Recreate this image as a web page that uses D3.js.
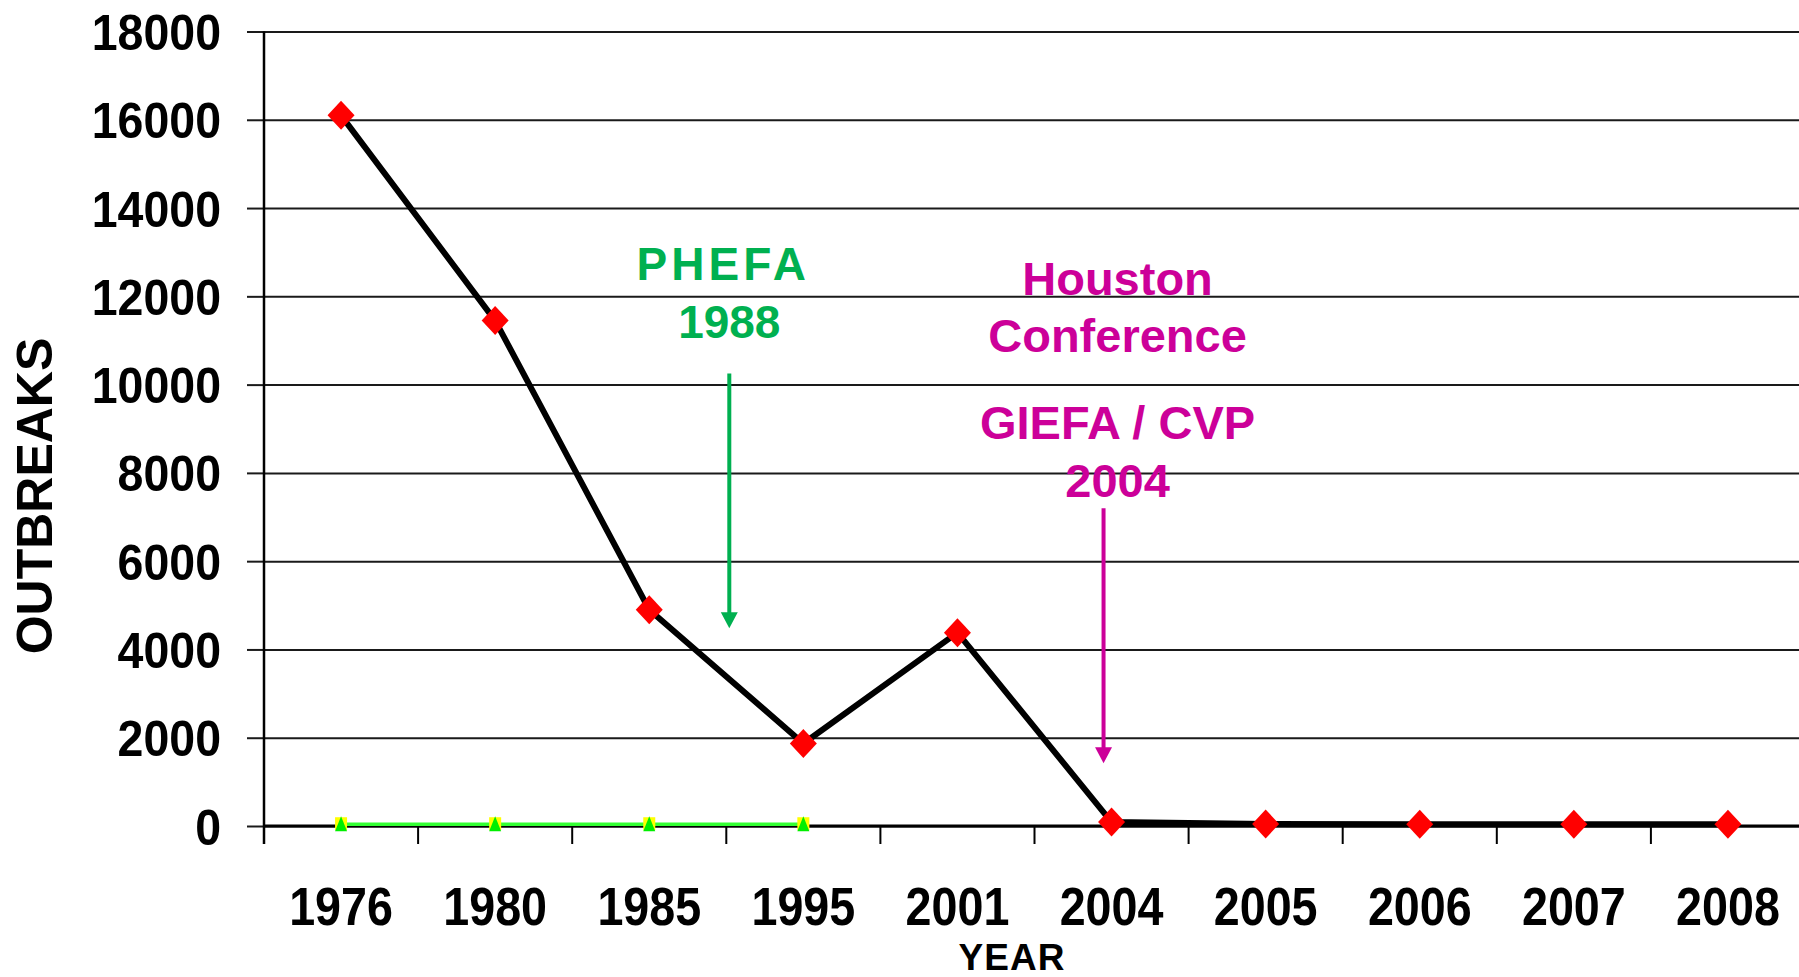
<!DOCTYPE html>
<html>
<head>
<meta charset="utf-8">
<script src="https://cdn.jsdelivr.net/npm/d3@7"></script>
<style>
  html, body { margin: 0; padding: 0; background: #fff; }
  svg { display: block; font-family: "Liberation Sans", Arial, Helvetica, sans-serif; font-weight: bold; }
</style>
</head>
<body>
<div id="chart"></div>
<script>
// categories and values
const years = ['1976', '1980', '1985', '1995', '2001', '2004', '2005', '2006', '2007', '2008']
const outbreaks = [16100, 11450, 4900, 1870, 4380, 90, 45, 40, 40, 40]
// the short yellow / green series only covers the first four years
const earlyYears = ['1976', '1980', '1985', '1995']
const squareValues = [40, 40, 40, 40]
const triangleValues = [40, 40, 40, 40]
const yTicks = [0, 2000, 4000, 6000, 8000, 10000, 12000, 14000, 16000, 18000]
const phefaLines = ['PHEFA', '1988']
const cvpLines = ['Houston', 'Conference', 'GIEFA / CVP', '2004']

const width = 1799
const height = 977
const margin = { top: 31.5, left: 264, bottom: 826 }
const plotRight = 1805

const svg = d3.select('#chart')
  .append('svg')
  .attr('width', width)
  .attr('height', height)

// scales
const x = d3.scaleBand()
  .domain(years)
  .range([margin.left, plotRight])
  .padding(0)
const y = d3.scaleLinear()
  .domain([0, 18000])
  .range([margin.bottom, margin.top])
const cx = d => x(d) + x.bandwidth() / 2

// grid lines
svg.append('g')
  .attr('transform', `translate(${margin.left},0)`)
  .call(d3.axisLeft(y).tickValues(yTicks).tickSize(-(plotRight - margin.left)).tickFormat(''))
  .call(g => g.select('.domain').remove())
  .call(g => g.selectAll('line').attr('stroke', '#1a1a1a').attr('stroke-width', 2))

// y axis with labels
svg.append('g')
  .attr('transform', `translate(${margin.left},0)`)
  .call(d3.axisLeft(y).tickValues(yTicks).tickSize(17).tickSizeOuter(0).tickPadding(26).tickFormat(d3.format('d')))
  .call(g => g.select('.domain').remove())
  .call(g => g.selectAll('line').attr('stroke', '#1a1a1a').attr('stroke-width', 2))
  .call(g => g.selectAll('text')
    .attr('x', 0)
    .attr('dy', '0.36em')
    .attr('transform', 'translate(-43,0) scale(0.93,1)')
    .attr('fill', '#000')
    .style('font-size', '50px')
    .style('font-weight', 'bold'))

// y axis line
svg.append('line')
  .attr('x1', margin.left).attr('x2', margin.left)
  .attr('y1', margin.top).attr('y2', margin.bottom + 18)
  .attr('stroke', '#000').attr('stroke-width', 2.5)

// x axis: labels centred in each band
svg.append('g')
  .attr('transform', `translate(0,${margin.bottom})`)
  .call(d3.axisBottom(x).tickSize(0).tickSizeOuter(0))
  .call(g => g.select('.domain').remove())
  .call(g => g.selectAll('text')
    .attr('y', 0)
    .attr('dy', 0)
    .attr('transform', 'translate(0,99) scale(0.88,1)')
    .attr('fill', '#000')
    .style('font-size', '53px')
    .style('font-weight', 'bold'))

// x axis line and ticks on the band edges
svg.append('line')
  .attr('x1', margin.left).attr('x2', plotRight)
  .attr('y1', margin.bottom).attr('y2', margin.bottom)
  .attr('stroke', '#000').attr('stroke-width', 3)
svg.append('g')
  .selectAll('line')
  .data(years.slice(1))
  .join('line')
  .attr('x1', d => x(d)).attr('x2', d => x(d))
  .attr('y1', margin.bottom).attr('y2', margin.bottom + 18)
  .attr('stroke', '#000').attr('stroke-width', 2)

// axis titles
svg.append('text')
  .attr('x', 1012).attr('y', 970)
  .attr('text-anchor', 'middle')
  .style('font-size', '37px')
  .style('letter-spacing', '1px')
  .text('YEAR')
svg.append('text')
  .attr('transform', 'translate(52,496) rotate(-90)')
  .attr('text-anchor', 'middle')
  .style('font-size', '50px')
  .text('OUTBREAKS')

// early series: green line, yellow squares, green triangles
const early = earlyYears.map((d, i) => ({ year: d, sq: squareValues[i], tri: triangleValues[i] }))
svg.append('path')
  .datum(early)
  .attr('fill', 'none')
  .attr('stroke', '#33ff33')
  .attr('stroke-width', 3.5)
  .attr('d', d3.line().x(d => cx(d.year)).y(d => y(d.tri)))
svg.append('g')
  .selectAll('rect')
  .data(early)
  .join('rect')
  .attr('x', d => cx(d.year) - 6).attr('y', d => y(d.sq) - 7)
  .attr('width', 12).attr('height', 13)
  .attr('fill', '#ffff00')
svg.append('g')
  .selectAll('path')
  .data(early)
  .join('path')
  .attr('transform', d => `translate(${cx(d.year)},${y(d.tri)})`)
  .attr('d', 'M0,-8L6,7L-6,7Z')
  .attr('fill', '#00ee00')

// main series: black line with red diamonds
const main = years.map((d, i) => ({ year: d, value: outbreaks[i] }))
svg.append('path')
  .datum(main)
  .attr('fill', 'none')
  .attr('stroke', '#000')
  .attr('stroke-width', 6)
  .attr('stroke-linejoin', 'round')
  .attr('d', d3.line().x(d => cx(d.year)).y(d => y(d.value)))
svg.append('g')
  .selectAll('path')
  .data(main)
  .join('path')
  .attr('transform', d => `translate(${cx(d.year)},${y(d.value)})`)
  .attr('d', 'M0,-14.5L13.5,0L0,14.5L-13.5,0Z')
  .attr('fill', '#ff0000')

// arrow helper
function arrow (ax, fromValue, toValue, color) {
  const top = y(fromValue)
  const tip = y(toValue)
  svg.append('line')
    .attr('x1', ax).attr('x2', ax)
    .attr('y1', top).attr('y2', tip - 14)
    .attr('stroke', color).attr('stroke-width', 4)
  svg.append('path')
    .attr('d', `M${ax - 8.5},${tip - 16}L${ax + 8.5},${tip - 16}L${ax},${tip}Z`)
    .attr('fill', color)
}

// PHEFA 1988 annotation
const green = '#00b050'
const phefaX = x('1995') + 3
svg.append('text')
  .attr('x', phefaX - 6).attr('y', 280)
  .attr('text-anchor', 'middle')
  .attr('fill', green)
  .style('font-size', '46px')
  .style('letter-spacing', '4px')
  .text(phefaLines[0])
svg.append('text')
  .attr('x', phefaX).attr('y', 338)
  .attr('text-anchor', 'middle')
  .attr('fill', green)
  .style('font-size', '46px')
  .text(phefaLines[1])
arrow(phefaX, 10250, 4480, green)

// Houston Conference / GIEFA / CVP 2004 annotation
const magenta = '#cc0099'
const cvpX = cx('2004') + 6
const cvpBaselines = [295, 352, 439, 497]
svg.append('g')
  .selectAll('text')
  .data(cvpLines)
  .join('text')
  .attr('x', cvpX)
  .attr('y', (d, i) => cvpBaselines[i])
  .attr('text-anchor', 'middle')
  .attr('fill', magenta)
  .style('font-size', '47px')
  .text(d => d)
arrow(cx('2004') - 8, 7200, 1420, magenta)
</script>
</body>
</html>
